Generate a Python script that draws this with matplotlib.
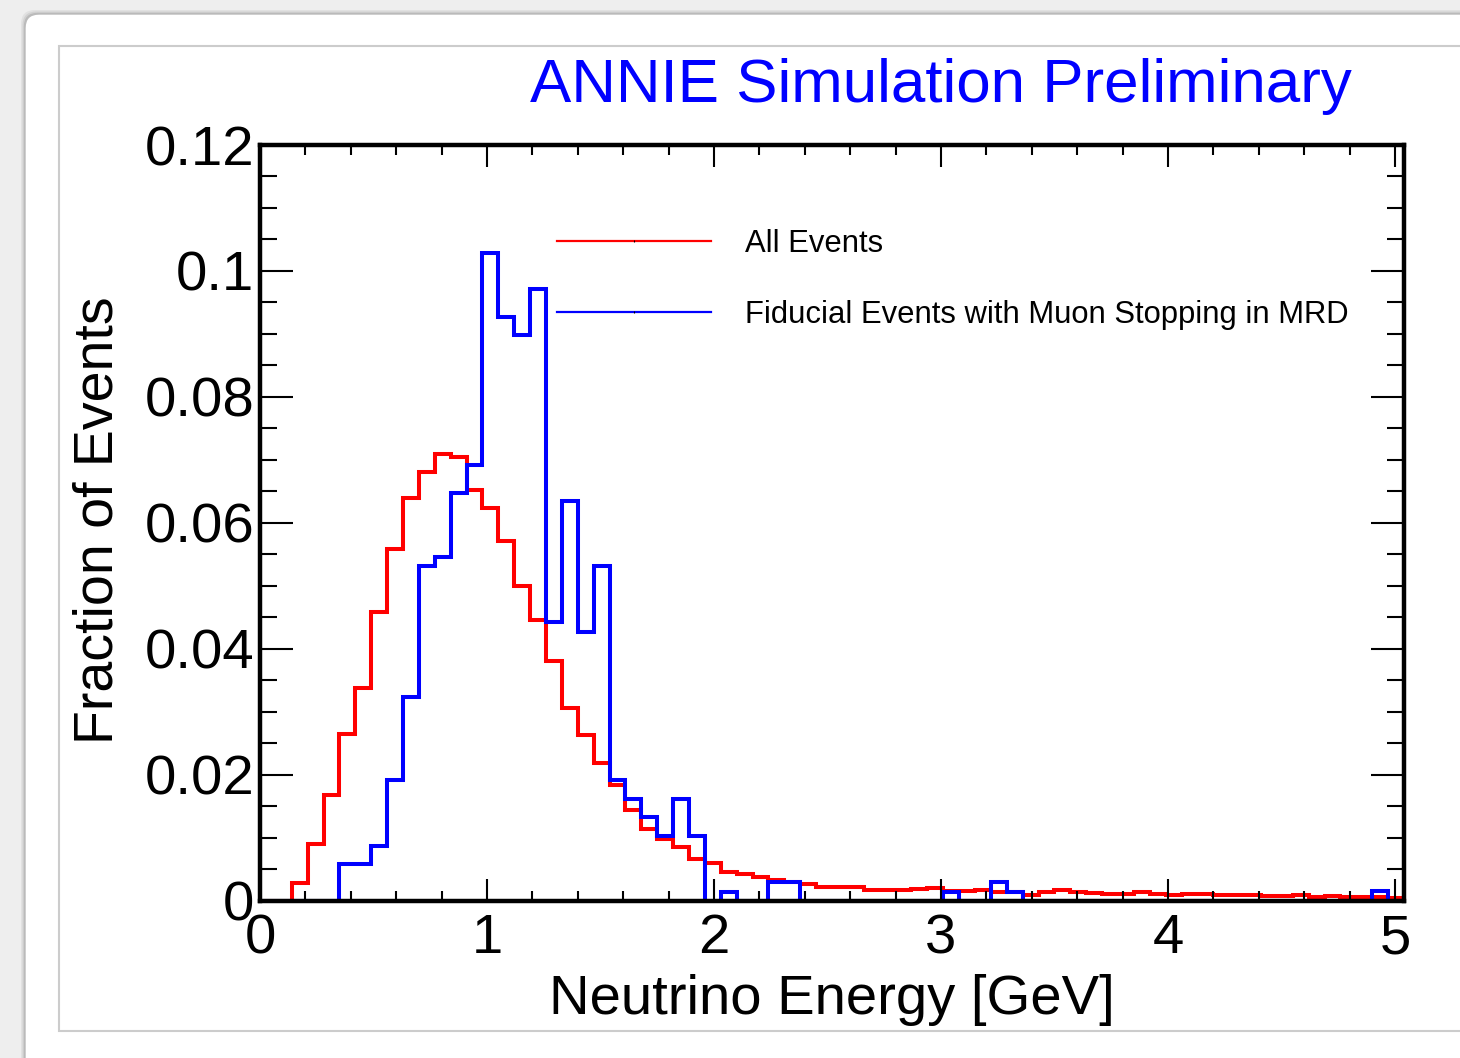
import numpy as np
import matplotlib
matplotlib.use('Agg')
import matplotlib.pyplot as plt
from matplotlib.patches import Rectangle, FancyBboxPatch
from matplotlib.lines import Line2D
from matplotlib.ticker import MultipleLocator

plt.rcParams['font.family'] = ['Liberation Sans', 'DejaVu Sans']

# 72 bins of 0.07 GeV
bin_width = 0.07
n_bins = 72
edges = np.arange(n_bins + 1) * bin_width

# All Events (fraction per bin)
all_events = [
    0.0, 0.0, 0.0028, 0.0089, 0.0167, 0.0265, 0.0337, 0.0458, 0.0558, 0.0640,
    0.0680, 0.0709, 0.0704, 0.0652, 0.0624, 0.0571, 0.0500, 0.0446, 0.0381, 0.0305,
    0.0263, 0.0219, 0.0183, 0.0143, 0.0114, 0.0097, 0.0085, 0.0066, 0.0059, 0.0045,
    0.0042, 0.0037, 0.0032, 0.0029, 0.0027, 0.0021, 0.0022, 0.0022, 0.0016, 0.0016,
    0.0017, 0.0019, 0.0020, 0.0015, 0.0015, 0.0017, 0.0013, 0.0013, 0.0009, 0.0013,
    0.0016, 0.0013, 0.0012, 0.0010, 0.0010, 0.0013, 0.0010, 0.0009, 0.0010, 0.0010,
    0.0009, 0.0009, 0.0008, 0.0007, 0.0007, 0.0008, 0.0006, 0.0007, 0.0005, 0.0005,
    0.0005, 0.0004,
]

# Fiducial events with muon stopping in MRD
fiducial_stop = [
    0.0, 0.0, 0.0, 0.0, 0.0, 0.0058, 0.0058, 0.0087, 0.0191, 0.0324,
    0.0531, 0.0545, 0.0648, 0.0692, 0.1029, 0.0927, 0.0898, 0.0971, 0.0442, 0.0634,
    0.0426, 0.0531, 0.0191, 0.0161, 0.0132, 0.0102, 0.0161, 0.0102, 0.0, 0.0014,
    0.0, 0.0, 0.0029, 0.0029, 0.0, 0.0, 0.0, 0.0, 0.0, 0.0,
    0.0, 0.0, 0.0, 0.0014, 0.0, 0.0, 0.0029, 0.0014, 0.0, 0.0,
    0.0, 0.0, 0.0, 0.0, 0.0, 0.0, 0.0, 0.0, 0.0, 0.0,
    0.0, 0.0, 0.0, 0.0, 0.0, 0.0, 0.0, 0.0, 0.0, 0.0,
    0.0015, 0.0,
]

x_ticks = [0, 1, 2, 3, 4, 5]
x_tick_labels = ['0', '1', '2', '3', '4', '5']
y_ticks = [0, 0.02, 0.04, 0.06, 0.08, 0.1, 0.12]
y_tick_labels = ['0', '0.02', '0.04', '0.06', '0.08', '0.1', '0.12']

W, H = 1460, 1058
fig = plt.figure(figsize=(W / 100, H / 100), dpi=100)

# background: slide screenshot look
bg = fig.add_axes([0, 0, 1, 1], zorder=-10)
bg.set_xlim(0, W)
bg.set_ylim(H, 0)
bg.axis('off')
bg.add_patch(Rectangle((0, 0), W, H, facecolor='#eeeeee', edgecolor='none'))
for off, a in [(4, 0.10), (2.5, 0.15), (1.2, 0.25)]:
    bg.add_patch(FancyBboxPatch((25 - off, 14 - off), W + 60, H + 60,
                                boxstyle='round,pad=0,rounding_size=14',
                                facecolor='#777777', edgecolor='none', alpha=a))
bg.add_patch(FancyBboxPatch((25, 14), W + 60, H + 60,
                            boxstyle='round,pad=0,rounding_size=14',
                            facecolor='white', edgecolor='#bbbbbb', lw=1))
bg.add_patch(Rectangle((59, 46), W + 20, 1031 - 46, facecolor='white',
                       edgecolor='#cccccc', lw=1.5))

ax_l, ax_r, ax_t, ax_b = 260, 1404, 145, 900.5
ax = fig.add_axes([ax_l / W, 1 - ax_b / H, (ax_r - ax_l) / W, (ax_b - ax_t) / H])

ax.stairs(all_events, edges, color='#ff0000', lw=2.9, baseline=0)
ax.stairs(fiducial_stop, edges, color='#0000ff', lw=2.9, baseline=0)

ax.set_xlim(0, edges[-1])
ax.set_ylim(0, 0.12)
ax.set_xticks(x_ticks)
ax.set_xticklabels(x_tick_labels)
ax.set_yticks(y_ticks)
ax.set_yticklabels(y_tick_labels)
ax.xaxis.set_minor_locator(MultipleLocator(0.2))
ax.yaxis.set_minor_locator(MultipleLocator(0.005))

ax.tick_params(which='both', direction='in', top=True, right=True,
               labelsize=40.5, width=1.5, color='black')
ax.tick_params(axis='x', which='major', length=16, pad=9)
ax.tick_params(axis='x', which='minor', length=7.5)
ax.tick_params(axis='y', which='major', length=24, pad=4)
ax.tick_params(axis='y', which='minor', length=12)
for s in ax.spines.values():
    s.set_linewidth(3.2)

ax.set_xlabel('Neutrino Energy [GeV]', fontsize=40.5, va='center')
ax.xaxis.set_label_coords(0.5, (ax_b - 1000) / (ax_b - ax_t))
ax.set_ylabel('Fraction of Events', fontsize=40, va='center')
ax.yaxis.set_label_coords((99 - ax_l) / (ax_r - ax_l), 0.503)

fig.text(941 / W, 1 - 102 / H, 'ANNIE Simulation Preliminary', color='#0000ff',
         fontsize=44.6, ha='center', va='baseline')

# legend drawn by hand, ROOT style
for y, col, lab in [(241, '#ff0000', 'All Events'),
                    (312, '#0000ff', 'Fiducial Events with Muon Stopping in MRD')]:
    fig.add_artist(Line2D([557 / W, 711 / W], [1 - y / H, 1 - y / H], color=col,
                          lw=1.6, transform=fig.transFigure))
    fig.add_artist(Line2D([634 / W], [1 - y / H], marker='|', ms=2, mew=0.8,
                          color='black', transform=fig.transFigure))
    fig.text(745 / W, 1 - (y + 11) / H, lab, fontsize=22.3, ha='left', va='baseline')

fig.savefig('out.png', dpi=100)
